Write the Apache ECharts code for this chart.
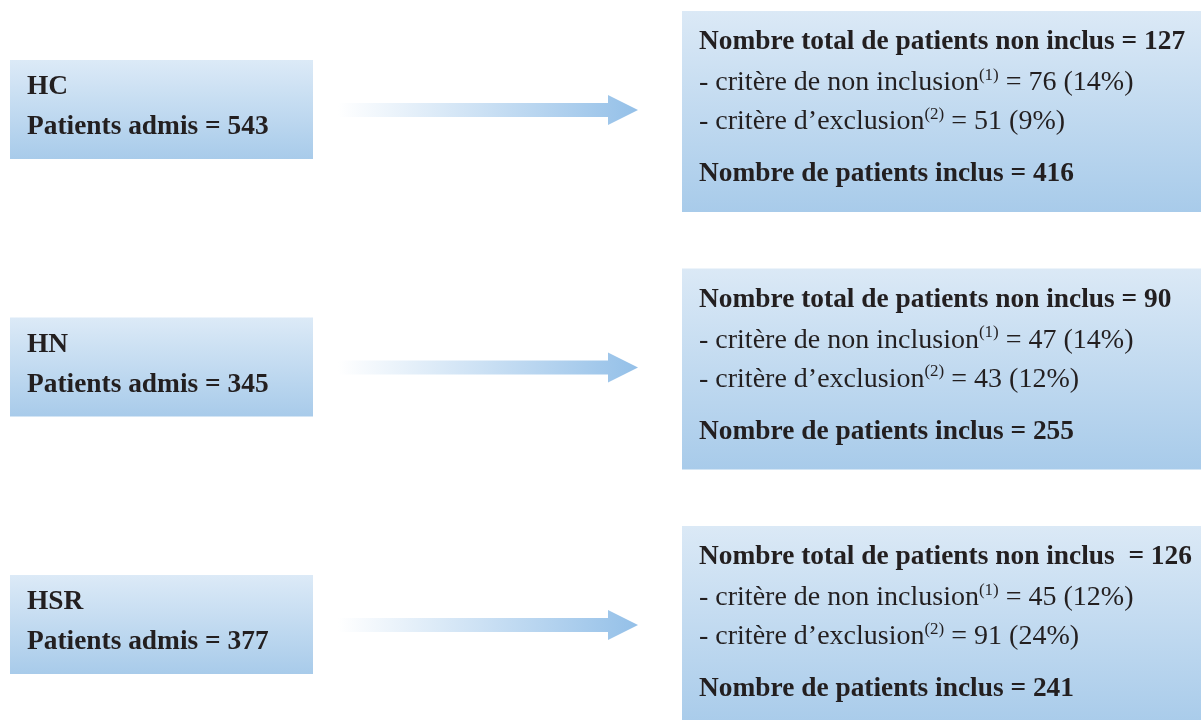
<!DOCTYPE html>
<html>
<head>
<meta charset="utf-8">
<script src="https://cdn.jsdelivr.net/npm/echarts@6/dist/echarts.min.js"></script>
<style>
  html, body { margin: 0; padding: 0; background: #fff; }
  #chart { width: 1201px; height: 720px; }
</style>
</head>
<body>
<div id="chart"></div>
<script>
// one row per hospital
const hospitals = ["HC", "HN", "HSR"];
const admitted = [543, 345, 377];
const notIncluded = [127, 90, 126];
const totalSep = [" = ", " = ", "  = "];
const nonInclusion = [76, 47, 45];
const nonInclusionPct = [14, 14, 12];
const exclusion = [51, 43, 91];
const exclusionPct = [9, 12, 24];
const included = [416, 255, 241];

const FONT = '"Liberation Serif", "Times New Roman", serif';
const INK = "#231f20";

function boxFill(top, bottom) {
  return new echarts.graphic.LinearGradient(0, 0, 0, 1, [
    { offset: 0, color: top },
    { offset: 1, color: bottom },
  ]);
}

function line(x, y, text, bold) {
  return {
    type: "text",
    style: {
      x: x,
      y: y,
      text: text,
      fill: INK,
      font: (bold ? "bold 27.4px " : "28px ") + FONT,
      align: "left",
      verticalAlign: "middle",
    },
  };
}

function supLine(x, y, before, sup, after) {
  return {
    type: "text",
    style: {
      x: x,
      y: y,
      text: "{r|" + before + "}{s|" + sup + "}{r|" + after + "}",
      align: "left",
      verticalAlign: "middle",
      rich: {
        r: { fontFamily: FONT, fontSize: 28, lineHeight: 32, fill: INK, color: INK },
        s: { fontFamily: FONT, fontSize: 17, lineHeight: 18, verticalAlign: "top", fill: INK, color: INK },
      },
    },
  };
}

function renderRow(params, api) {
  const i = params.dataIndex;
  const cy = api.coord([0, api.value(1)])[1];
  const top = cy - 99;
  return {
    type: "group",
    children: [
      {
        type: "rect",
        shape: { x: 10, y: cy - 50, width: 303, height: 99 },
        style: { fill: boxFill("#dceaf7", "#a8cbea") },
      },
      line(27, cy - 23, hospitals[i], true),
      line(27, cy + 17, "Patients admis = " + admitted[i], true),
      {
        type: "polygon",
        shape: {
          points: [
            [338, cy - 7], [608, cy - 7], [608, cy - 15], [638, cy],
            [608, cy + 15], [608, cy + 7], [338, cy + 7],
          ],
        },
        style: {
          fill: new echarts.graphic.LinearGradient(0, 0, 1, 0, [
            { offset: 0, color: "#ffffff" },
            { offset: 1, color: "#94c0e8" },
          ]),
        },
      },
      {
        type: "rect",
        shape: { x: 682, y: top, width: 530, height: 201 },
        style: { fill: boxFill("#dbe9f6", "#a8cbea") },
      },
      line(699, top + 31, "Nombre total de patients non inclus" + totalSep[i] + notIncluded[i], true),
      supLine(699, top + 72, "- critère de non inclusion", "(1)",
        " = " + nonInclusion[i] + " (" + nonInclusionPct[i] + "%)"),
      supLine(699, top + 111, "- critère d\u2019exclusion", "(2)",
        " = " + exclusion[i] + " (" + exclusionPct[i] + "%)"),
      line(699, top + 163, "Nombre de patients inclus = " + included[i], true),
    ],
  };
}

const chart = echarts.init(document.getElementById("chart"));
chart.setOption({
  animation: false,
  grid: { left: 0, right: 0, top: 110, bottom: 95 },
  xAxis: { type: "value", min: 0, max: 1, show: false },
  yAxis: { type: "value", min: 0, max: 2, inverse: true, show: false },
  series: [
    {
      type: "custom",
      clip: false,
      renderItem: renderRow,
      data: hospitals.map((h, i) => [0, i]),
    },
  ],
});
</script>
</body>
</html>
